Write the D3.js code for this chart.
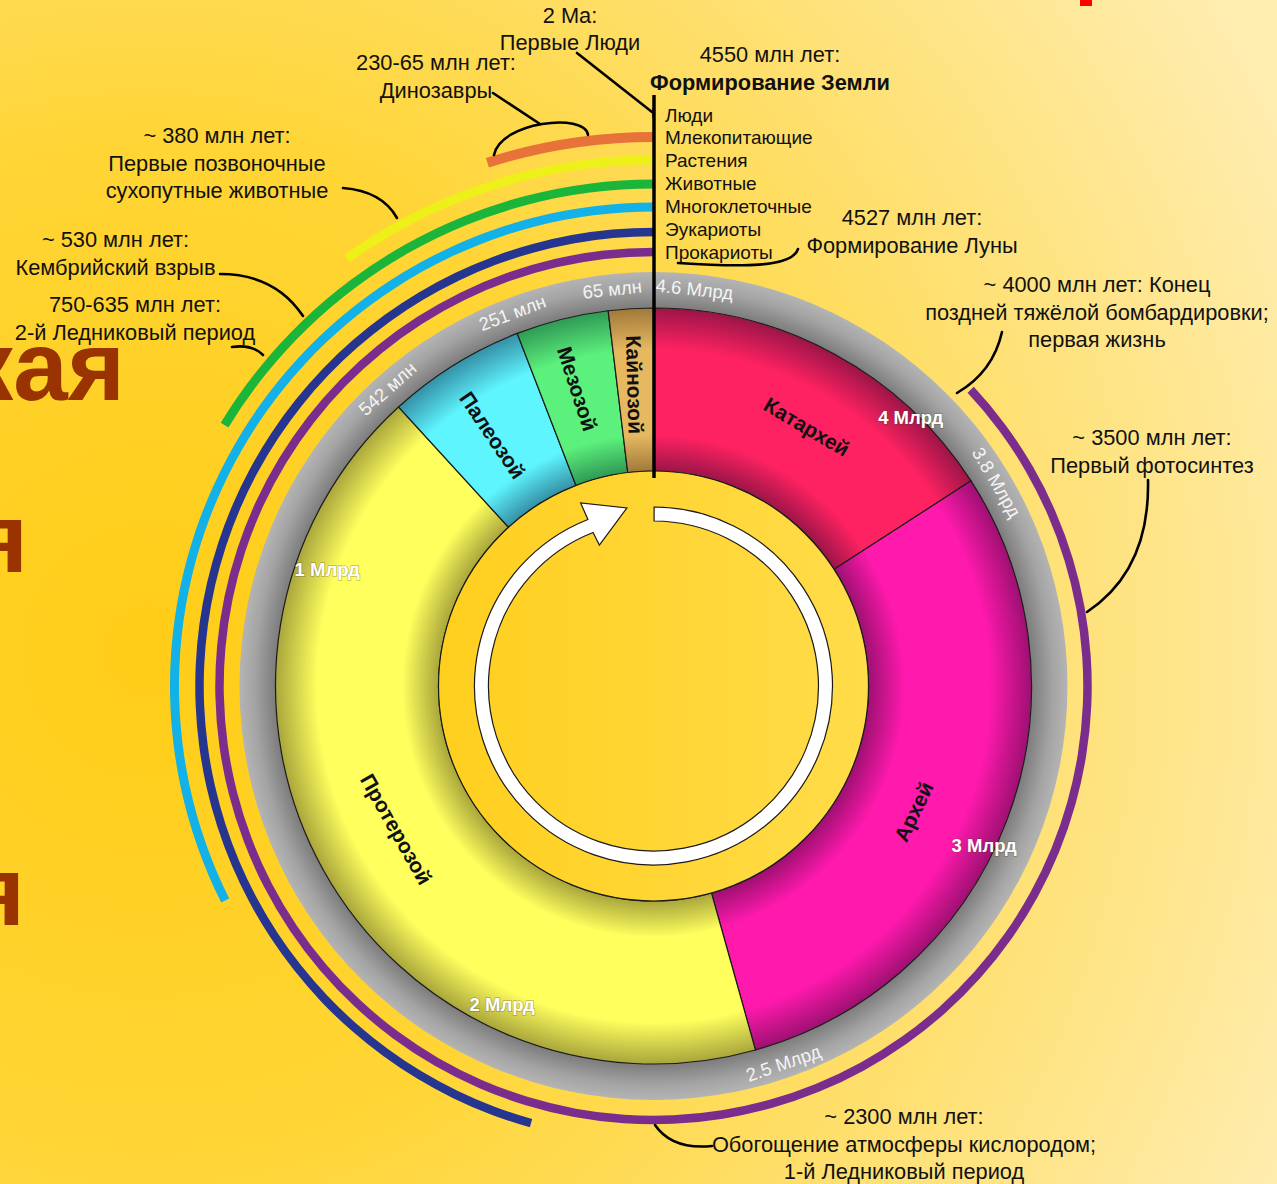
<!DOCTYPE html>
<html><head><meta charset="utf-8">
<script src="https://cdn.jsdelivr.net/npm/d3@7"></script>
<style>
body{margin:0;overflow:hidden}
svg{display:block}
text{font-family:"Liberation Sans",Arial,sans-serif}
</style>
</head><body>
<script>
// ---------------- DATA ----------------
const eonNames  = ["Катархей","Архей","Протерозой","Палеозой","Мезозой","Кайнозой"];
const eonStart  = [4600, 3870, 2500, 542, 270, 88];   // Ma (as drawn)
const eonEnd    = [3870, 2500, 542, 270, 88, 0];
const eonBase   = ["#ff2262","#ff19ad","#ffff5e","#5ef5ff","#5cf07c","#e6b860"];
const eonDark   = ["#9c1548","#9e1072","#a9a63c","#3590a6","#2f9a55","#a07a3a"];

const lifeNames  = ["Люди","Млекопитающие","Растения","Животные","Многоклеточные","Эукариоты","Прокариоты"];
const lifeStart  = [2, 225, 455, 750, 1490, 2100, 4000];  // Ma
const lifeColors = ["#a8403a","#e8733a","#eef01a","#1bb53c","#12b1e8","#253590","#7b2d8e"];

const ringTickLabels = ["4.6 Млрд","65 млн","251 млн","542 млн","2.5 Млрд","3.8 Млрд"];
const ringTickValues = [4600, 65, 251, 542, 2500, 3800];
const boldTickLabels = ["1 Млрд","2 Млрд","3 Млрд","4 Млрд"];
const boldTickValues = [1000, 2000, 3000, 4000];

const calloutTexts = [
  ["2 Ma:","Первые Люди"],
  ["4550 млн лет:","Формирование Земли"],
  ["230-65 млн лет:","Динозавры"],
  ["~ 380 млн лет:","Первые позвоночные","сухопутные животные"],
  ["~ 530 млн лет:","Кембрийский взрыв"],
  ["750-635 млн лет:","2-й Ледниковый период"],
  ["4527 млн лет:","Формирование Луны"],
  ["~ 4000 млн лет: Конец","поздней тяжёлой бомбардировки;","первая жизнь"],
  ["~ 3500 млн лет:","Первый фотосинтез"],
  ["~ 2300 млн лет:","Обогощение атмосферы кислородом;","1-й Ледниковый период"]
];

// ---------------- LAYOUT ----------------
const W = 1277, H = 1184, cx = 653.5, cy = 686;
const R_IN = 215, R_EON = 378, R_GRAY = 414;
const lifeRadius = [573, 549, 526, 502, 479, 454, 434];
const lifeWidth  = [10, 10, 9, 9, 9, 8.5, 8.5];
const eonLabelPos = [ // angle deg (cw from top), radius, rotation
  {a:30.6, r:301, rot:30.6}, {a:115.8, r:289, rot:-64}, {a:240.9, r:294.5, rot:60.5},
  {a:-32.7, r:298, rot:56}, {a:-14.4, r:307, rot:72}, {a:-3.6, r:302, rot:88.5}];
const ringTickOffset = [5.9, -0.86, -1.06, 0.6, -3.35, -3.3];
const boldTickPos = [{off:7.9, r:346.5},{off:1.9, r:353},{off:-9.5, r:367},{off:-3.2, r:372}];
const calloutPos = [
  {x:570, y:22.5, bold:[]}, {x:770, y:62, bold:[1]}, {x:436, y:70, bold:[]},
  {x:217, y:143, bold:[]}, {x:115.5, y:247, bold:[]}, {x:135, y:312, bold:[]},
  {x:912, y:225, bold:[]}, {x:1097, y:292, bold:[]}, {x:1152, y:445, bold:[]},
  {x:904, y:1124, bold:[]}];
const leaders = [
  "M577,53 L652,112",
  "M493,93 L540,124",
  "M494,155 C500,122 585,112 588,135",
  "M343,188 Q382,191 397,218",
  "M220,274 Q275,274 303,316",
  "M232,347 Q252,344 263,355",
  "M678,263 C740,267 792,268 798,249",
  "M1002,332 Q993,372 957,393",
  "M1148,480 Q1150,570 1087,612",
  "M712,1146 Q672,1150 655,1125"];

const rad = d => d * Math.PI / 180;
const pt = (r, a) => [cx + r * Math.sin(a), cy - r * Math.cos(a)];
const ang = d3.scaleLinear().domain([4600, 0]).range([0, 2 * Math.PI]);

const svg = d3.select("body").append("svg").attr("width", W).attr("height", H);
const defs = svg.append("defs");

// background
const bg = defs.append("radialGradient").attr("id","bg").attr("gradientUnits","userSpaceOnUse")
  .attr("cx",150).attr("cy",650).attr("r",1250);
[[0,"#ffcd17"],[0.4,"#ffd535"],[0.75,"#fee27c"],[1,"#ffedb0"]].forEach(s=>
  bg.append("stop").attr("offset",s[0]).attr("stop-color",s[1]));
svg.append("rect").attr("width",W).attr("height",H).attr("fill","url(#bg)");

// background slide text
const slide = svg.append("g").attr("fill","#993300").attr("font-weight","bold")
  .attr("font-size",98).attr("text-anchor","end");
slide.append("text").attr("x",125).attr("y",400).text("кая");
slide.append("text").attr("x",28).attr("y",572).text("я");
slide.append("text").attr("x",25).attr("y",925).text("я");
svg.append("rect").attr("x",1080).attr("y",0).attr("width",12).attr("height",6).attr("fill","#ff0000");

// gradients for eons (user space of the translated group => centre at 0,0)
eonBase.forEach((c,i)=>{
  const g = defs.append("radialGradient").attr("id","eg"+i).attr("gradientUnits","userSpaceOnUse")
    .attr("cx",0).attr("cy",0).attr("r",R_EON);
  [[R_IN/R_EON,eonDark[i]],[0.665,c],[0.89,c],[1,eonDark[i]]].forEach(s=>
    g.append("stop").attr("offset",s[0]).attr("stop-color",s[1]));
});
const gg = defs.append("radialGradient").attr("id","gray").attr("gradientUnits","userSpaceOnUse")
  .attr("cx",0).attr("cy",0).attr("r",R_GRAY);
[[R_EON/R_GRAY,"#7c7c7c"],[0.965,"#a4a4a4"],[1,"#b4b4b4"]].forEach(s=>
  gg.append("stop").attr("offset",s[0]).attr("stop-color",s[1]));
const ig = defs.append("linearGradient").attr("id","inner").attr("x1",0).attr("x2",1).attr("y1",0).attr("y2",0);
[[0,"#ffcf1e"],[1,"#ffdc4a"]].forEach(s=>ig.append("stop").attr("offset",s[0]).attr("stop-color",s[1]));

const g = svg.append("g").attr("transform",`translate(${cx},${cy})`);

// life arcs
lifeStart.forEach((s,i)=>{
  const a = d3.arc().innerRadius(lifeRadius[i]-lifeWidth[i]/2).outerRadius(lifeRadius[i]+lifeWidth[i]/2);
  g.append("path").attr("d", a({startAngle: ang(s), endAngle: ang(0)})).attr("fill", lifeColors[i]);
});

// gray ring
g.append("path").attr("d", d3.arc().innerRadius(R_EON).outerRadius(R_GRAY)({startAngle:0,endAngle:2*Math.PI}))
  .attr("fill","url(#gray)");

// eons
const eonArc = d3.arc().innerRadius(R_IN).outerRadius(R_EON);
eonStart.forEach((s,i)=>{
  g.append("path").attr("d", eonArc({startAngle: ang(s), endAngle: ang(eonEnd[i])}))
    .attr("fill","url(#eg"+i+")").attr("stroke","#1a1a1a").attr("stroke-width",1.2);
});

// inner disk
svg.append("circle").attr("cx",cx).attr("cy",cy).attr("r",R_IN).attr("fill","url(#inner)")
  .attr("stroke","#1a1a1a").attr("stroke-width",1.2);

// arrow
{
  const p = d3.path();
  const a0 = rad(0.2), a1 = rad(338.5);
  const s = pt(179, a0); p.moveTo(s[0], s[1]);
  p.arc(cx, cy, 179, a0 - Math.PI/2, a1 - Math.PI/2, false);
  let q = pt(197, rad(338.3)); p.lineTo(q[0], q[1]);
  q = pt(180, rad(351.5)); p.lineTo(q[0], q[1]);
  q = pt(151, rad(339)); p.lineTo(q[0], q[1]);
  q = pt(165, a1); p.lineTo(q[0], q[1]);
  p.arc(cx, cy, 165, a1 - Math.PI/2, a0 - Math.PI/2, true);
  p.closePath();
  svg.append("path").attr("d", p.toString()).attr("fill","#fff").attr("stroke","#1a1a1a").attr("stroke-width",1.2);
}

// eon labels
eonNames.forEach((n,i)=>{
  const L = eonLabelPos[i]; const [x,y] = pt(L.r, rad(L.a));
  svg.append("text").attr("transform",`translate(${x},${y}) rotate(${L.rot})`)
    .attr("text-anchor","middle").attr("dy","0.35em").attr("font-size",21).attr("font-weight","bold")
    .attr("fill","#111").text(n);
});

// ring tick labels
ringTickLabels.forEach((t,i)=>{
  const aDeg = ang(ringTickValues[i]) * 180 / Math.PI + ringTickOffset[i];
  const aN = ((aDeg % 360) + 360) % 360;
  const rot = (aN > 90 && aN < 270) ? aDeg - 180 : aDeg;
  const [x,y] = pt(399, rad(aDeg));
  svg.append("text").attr("transform",`translate(${x},${y}) rotate(${rot})`)
    .attr("text-anchor","middle").attr("dy","0.35em").attr("font-size",18.5)
    .attr("fill","#f4f4f4").text(t);
});

// bold tick labels
boldTickLabels.forEach((t,i)=>{
  const aDeg = ang(boldTickValues[i]) * 180 / Math.PI + boldTickPos[i].off;
  const [x,y] = pt(boldTickPos[i].r, rad(aDeg));
  svg.append("text").attr("x",x).attr("y",y).attr("text-anchor","middle").attr("dy","0.35em")
    .attr("font-size",18.5).attr("font-weight","bold").attr("fill","#fff")
    .style("paint-order","stroke").attr("stroke","rgba(90,60,40,0.35)").attr("stroke-width",1.5)
    .text(t);
});

// black "now" line
svg.append("line").attr("x1",654).attr("x2",654).attr("y1",95).attr("y2",478)
  .attr("stroke","#000").attr("stroke-width",3.5);

// life labels
lifeNames.forEach((n,i)=>{
  svg.append("text").attr("x",665).attr("y",121.5 + i*22.9).attr("font-size",19)
    .attr("fill","#111").text(n);
});

// leaders
leaders.forEach(d=>svg.append("path").attr("d",d).attr("fill","none").attr("stroke","#000")
  .attr("stroke-width",2.6).attr("stroke-linecap","round"));

// callouts
calloutTexts.forEach((lines,i)=>{
  const P = calloutPos[i];
  const t = svg.append("text").attr("text-anchor","middle").attr("font-size",21.8).attr("fill","#111");
  lines.forEach((l,j)=>{
    t.append("tspan").attr("x",P.x).attr("y",P.y + j*27.5)
      .attr("font-weight", P.bold.includes(j) ? "bold" : null).text(l);
  });
});
</script>
</body></html>
